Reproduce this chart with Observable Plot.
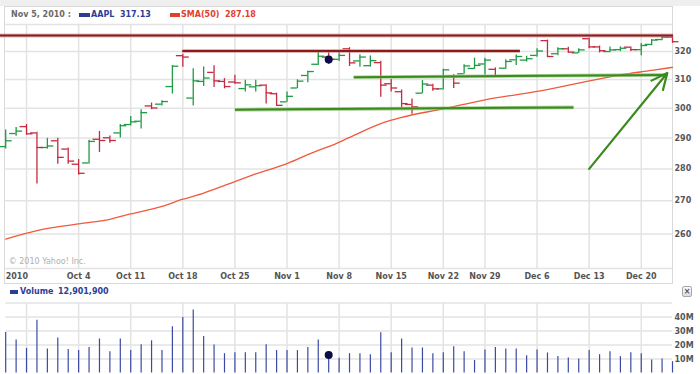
<!DOCTYPE html>
<html>
<head>
<meta charset="utf-8">
<script src="https://cdn.jsdelivr.net/npm/d3@7"></script>
<script src="https://cdn.jsdelivr.net/npm/@observablehq/plot@0.6"></script>
<style>
  html,body{margin:0;padding:0;background:#fff;}
  #wrap{position:relative;width:700px;height:374px;overflow:hidden;font-family:"DejaVu Sans",Verdana,sans-serif;font-weight:bold;font-size:8px;}
  .abs{position:absolute;white-space:nowrap;}
  #topstrip{left:0;top:0;width:700px;height:6px;background:#efefef;}
  #frame{left:4px;top:6px;width:667px;height:276px;border:1px solid #d9d9d9;}
  #price{left:0;top:24px;}
  #vol{left:0;top:302px;}
  .sw{position:absolute;height:4px;}
  #closebtn{left:682px;top:286px;width:8px;height:9px;border:1px solid #a8a8a8;border-radius:2px;background:linear-gradient(#fbfbfb,#dcdcdc);color:#555;font-size:8px;line-height:9px;text-align:center;}
</style>
</head>
<body>
<div id="wrap">
  <div id="topstrip" class="abs"></div>
  <div id="frame" class="abs"></div>
  <div class="abs" style="left:11px;top:10px;color:#6a6a6a;">Nov 5, 2010 :</div>
  <div class="sw" style="left:79px;top:13px;width:11px;background:#2c3d97;"></div>
  <div class="abs" style="left:91px;top:10px;color:#2c3d97;">AAPL&nbsp; 317.13</div>
  <div class="sw" style="left:170px;top:13px;width:10px;background:#e2402c;"></div>
  <div class="abs" style="left:181px;top:10px;color:#e2402c;">SMA(50)&nbsp; 287.18</div>
  <div id="price" class="abs"></div>
  <div class="sw" style="left:10px;top:290px;width:8px;background:#2c3d97;"></div>
  <div class="abs" style="left:20px;top:287px;color:#2c3d97;">Volume</div>
  <div class="abs" style="left:58px;top:287px;color:#2c3d97;">12,901,900</div>
  <div id="closebtn" class="abs">×</div>
  <div id="vol" class="abs"></div>
</div>
<script>
// ---- data (AAPL daily, Sep 23 – Dec 23, 2010) ----
const dates = ["Sep 23","Sep 24","Sep 27","Sep 28","Sep 29","Sep 30","Oct 1",
  "Oct 4","Oct 5","Oct 6","Oct 7","Oct 8","Oct 11","Oct 12","Oct 13","Oct 14","Oct 15",
  "Oct 18","Oct 19","Oct 20","Oct 21","Oct 22","Oct 25","Oct 26","Oct 27","Oct 28","Oct 29",
  "Nov 1","Nov 2","Nov 3","Nov 4","Nov 5","Nov 8","Nov 9","Nov 10","Nov 11","Nov 12",
  "Nov 15","Nov 16","Nov 17","Nov 18","Nov 19","Nov 22","Nov 23","Nov 24","Nov 26",
  "Nov 29","Nov 30","Dec 1","Dec 2","Dec 3","Dec 6","Dec 7","Dec 8","Dec 9","Dec 10",
  "Dec 13","Dec 14","Dec 15","Dec 16","Dec 17","Dec 20","Dec 21","Dec 22","Dec 23"];
const open  = [287.2,291.5,293.8,291.7,286.9,289.1,286.4,
  281.5,281.9,289.6,290.1,291.7,294.5,295.6,300.8,301.4,307.5,
  318.5,303.5,309.3,312.5,309.3,309.1,306.8,307.4,308.0,305.0,
  302.2,307.0,311.4,315.4,318.0,317.2,321.0,316.6,314.9,316.0,
  308.5,305.7,301.3,305.2,308.0,306.7,311.1,312.0,313.9,
  315.5,313.6,314.0,317.0,316.9,318.6,324.0,319.2,321.0,319.5,
  324.7,321.7,320.0,320.7,321.6,320.7,322.6,324.4,325.3];
const high  = [292.7,293.5,294.5,291.9,289.9,289.9,286.7,
  283.0,289.3,292.2,290.7,294.5,297.2,299.5,301.8,302.6,314.9,
  319.0,313.8,314.4,314.9,310.3,311.5,309.7,309.7,308.1,305.2,
  305.6,309.9,312.9,320.0,319.6,319.8,321.4,318.8,318.4,316.5,
  310.0,306.3,303.2,309.6,308.3,313.6,311.7,315.2,317.6,
  317.6,314.1,317.0,318.7,318.3,321.0,324.2,321.4,321.6,321.0,
  325.0,322.0,321.7,321.7,321.7,322.9,324.4,325.6,325.7];
const low   = [286.4,290.6,291.0,275.2,286.4,281.5,281.5,
  278.0,281.6,285.3,288.3,290.0,294.0,293.0,299.5,300.8,304.9,
  314.3,300.8,307.5,307.2,306.7,308.3,305.6,305.6,301.5,300.9,
  302.1,306.8,308.8,315.0,315.3,316.4,314.6,314.3,314.4,303.8,
  305.6,300.2,298.0,305.0,305.9,306.4,306.8,311.8,313.6,
  311.6,310.9,313.6,315.0,316.2,317.9,317.8,318.5,319.5,319.3,
  321.0,319.5,319.6,320.0,320.0,318.5,322.1,324.0,323.0];
const close = [289.1,292.3,291.4,286.9,287.4,283.7,282.5,
  278.6,288.9,289.2,289.2,294.1,295.4,298.5,300.1,302.3,314.7,
  318.0,309.5,310.5,309.5,307.5,308.8,308.1,307.8,305.3,301.0,
  304.1,309.4,312.8,318.3,317.13,318.6,315.9,318.0,316.7,308.0,
  307.0,301.6,300.5,308.4,306.7,313.4,308.7,314.8,315.0,
  316.9,311.2,316.4,318.2,317.4,320.2,318.2,321.0,319.8,320.6,
  321.7,320.3,320.6,321.2,320.7,322.2,324.2,325.2,323.6];
const volumeM = [29.0,23.5,17.6,37.7,17.2,25.0,16.7,
  16.0,18.3,24.3,15.2,24.3,16.0,20.2,23.0,16.0,33.0,
  39.6,45.0,26.0,20.0,13.8,14.5,14.5,14.5,20.2,16.0,
  16.0,16.0,18.3,23.5,12.9019,10.5,13.8,13.8,13.1,28.7,
  14.5,24.3,17.9,17.9,13.8,14.5,18.8,15.2,8.9,
  16.5,18.3,17.2,17.2,12.4,16.5,14.3,11.7,10.8,10.0,
  16.0,13.1,15.2,11.7,14.5,13.8,9.3,10.0,8.1];
const smaDates  = ["Sep 23","Sep 28","Oct 4","Oct 7","Oct 11","Oct 14","Oct 18","Oct 20",
  "Oct 25","Oct 27","Nov 1","Nov 4","Nov 5","Nov 9","Nov 12","Nov 16","Nov 22","Nov 29",
  "Dec 6","Dec 10","Dec 16","Dec 21","Dec 23"];
const smaValues = [258.5,261.0,263.0,264.4,266.0,268.3,270.5,272.4,
  276.0,278.4,281.7,286.0,287.18,290.2,294.8,296.9,299.8,302.9,
  305.8,308.7,311.6,313.2,314.3];
const weekStarts  = ["Sep 27","Oct 4","Oct 11","Oct 18","Oct 25","Nov 1","Nov 8","Nov 15","Nov 22","Nov 29","Dec 6","Dec 13","Dec 20"];
const xTickDates  = ["Sep 23","Oct 4","Oct 11","Oct 18","Oct 25","Nov 1","Nov 8","Nov 15","Nov 22","Nov 29","Dec 6","Dec 13","Dec 20"];
const xTickLabels = ["2010","Oct 4","Oct 11","Oct 18","Oct 25","Nov 1","Nov 8","Nov 15","Nov 22","Nov 29","Dec 6","Dec 13","Dec 20"];
const priceTicks = [260,270,280,290,300,310,320];
const priceGrid  = [250,260,270,280,290,300,310,320,330];
const volumeTicks = [10,20,30,40];
const volumeGrid  = [10,20,30,40,50];
const markedDate = "Nov 5";
// hand-drawn annotation lines: trading-day index (0 = Sep 27) and price
const redLineStart = [-2.5, 15];
const redLineEnd   = [62.1, 47.4];
const redLinePrice = [325.9, 320.2];
const greenLineStart = [20, 31.4];
const greenLineEnd   = [52.5, 61.5];
const greenLinePriceStart = [299.5, 310.8];
const greenLinePriceEnd   = [300.3, 311.6];
const arrowFrom = [54, 280];
const arrowTo   = [61.5, 312.3];

// ---- derived tables ----
const tday = d => dates.indexOf(d) - 2;
const UP = "#1f9b45", DOWN = "#c42a40";
const bars = dates.map((d, k) => ({i: tday(d), o: open[k], h: high[k], l: low[k], c: close[k], v: volumeM[k], col: close[k] >= open[k] ? UP : DOWN}));
const sma = smaDates.map((d, k) => ({i: tday(d), v: smaValues[k]}));
const grid = weekStarts.map(tday);
const xt = xTickDates.map((d, k) => ({i: tday(d), t: xTickLabels[k]}));
const redLines = redLineStart.map((s, k) => ({x1: s, x2: redLineEnd[k], y: redLinePrice[k]}));
const greenLines = greenLineStart.map((s, k) => ({x1: s, x2: greenLineEnd[k], y1: greenLinePriceStart[k], y2: greenLinePriceEnd[k]}));
const mk = bars[dates.indexOf(markedDate)];
const GRID = "#e3e3e3";
const common = {
  width: 700, marginLeft: 5.2, marginRight: 28,
  style: {fontFamily: "DejaVu Sans, Verdana, sans-serif", fontSize: "8px", fontWeight: "bold", color: "#555", background: "transparent", overflow: "visible"}
};

const price = Plot.plot({
  ...common, height: 260, marginTop: 0, marginBottom: 16,
  x: {type: "linear", domain: [-2, 62], axis: null},
  y: {type: "log", domain: [250, 330], axis: null},
  color: {type: "identity"},
  marks: [
    Plot.ruleY(priceGrid, {stroke: GRID, strokeWidth: 1.5}),
    Plot.ruleX(grid, {stroke: GRID, strokeWidth: 1.5}),
    Plot.axisY({ticks: priceTicks, anchor: "right", tickSize: 0, tickPadding: 2, tickFormat: d => String(d), label: null, fill: "#555"}),
    Plot.text(xt.slice(0, 1), {x: "i", text: "t", frameAnchor: "bottom", dy: 8, lineAnchor: "middle", textAnchor: "start", fill: "#555"}),
    Plot.text(xt.slice(1), {x: "i", text: "t", frameAnchor: "bottom", dy: 8, lineAnchor: "middle", fill: "#555"}),
    Plot.text(["© 2010 Yahoo! Inc."], {frameAnchor: "bottom-left", textAnchor: "start", lineAnchor: "middle", dx: 3, dy: -7, fill: "#b0b0b0", fontWeight: "normal", fontSize: 8}),
    Plot.line(sma, {x: "i", y: "v", stroke: "#ef5a3c", strokeWidth: 1.3, curve: "monotone-x"}),
    Plot.ruleX(bars, {x: "i", y1: "l", y2: "h", stroke: "col", strokeWidth: 1.3}),
    Plot.ruleY(bars, {x1: d => d.i - 0.62, x2: "i", y: "o", stroke: "col", strokeWidth: 1.3}),
    Plot.ruleY(bars, {x1: "i", x2: d => d.i + 0.62, y: "c", stroke: "col", strokeWidth: 1.3}),
    Plot.ruleY(redLines, {x1: "x1", x2: "x2", y: "y", stroke: "#c98888", strokeWidth: 4, strokeOpacity: 0.6}),
    Plot.ruleY(redLines, {x1: "x1", x2: "x2", y: "y", stroke: "#8b1a1a", strokeWidth: 2}),
    Plot.link(greenLines, {x1: "x1", x2: "x2", y1: "y1", y2: "y2", stroke: "#8cc174", strokeWidth: 3.6, strokeOpacity: 0.7}),
    Plot.link(greenLines, {x1: "x1", x2: "x2", y1: "y1", y2: "y2", stroke: "#3a8a1c", strokeWidth: 2}),
    Plot.arrow([0], {x1: () => arrowFrom[0], y1: () => arrowFrom[1], x2: () => arrowTo[0], y2: () => arrowTo[1], stroke: "#3a8a1c", strokeWidth: 2.2, headLength: 12, headAngle: 50}),
    Plot.dot([mk], {x: "i", y: "c", r: 4, fill: "#0b0b45"})
  ]
});
document.getElementById("price").appendChild(price);

const vol = Plot.plot({
  ...common, height: 72, marginTop: 0.5, marginBottom: 1.5,
  x: {type: "linear", domain: [-2, 62], axis: null},
  y: {domain: [0, 50], axis: null},
  marks: [
    Plot.ruleY(volumeGrid, {stroke: GRID, strokeWidth: 1.5}),
    Plot.ruleX(grid, {stroke: GRID, strokeWidth: 1.5}),
    Plot.axisY({ticks: volumeTicks, anchor: "right", tickSize: 0, tickPadding: 2, tickFormat: d => d + "M", label: null, fill: "#555"}),
    Plot.ruleX(bars, {x: "i", y1: 0, y2: "v", stroke: "#3a4aa3", strokeWidth: 1.2}),
    Plot.dot([mk], {x: "i", y: "v", r: 4, fill: "#0b0b45"})
  ]
});
document.getElementById("vol").appendChild(vol);
</script>
</body>
</html>
